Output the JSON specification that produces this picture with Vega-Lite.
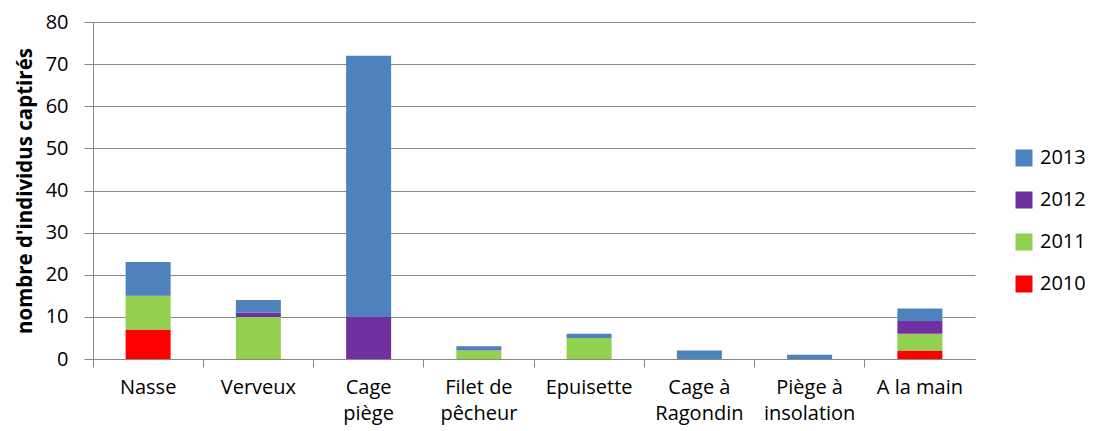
{
  "$schema": "https://vega.github.io/schema/vega-lite/v6.json",
  "width": 882,
  "height": 337,
  "autosize": {"type": "none"},
  "padding": {"left": 93, "top": 22, "right": 119, "bottom": 72},
  "background": "white",
  "config": {
    "view": {"stroke": null},
    "font": "Open Sans",
    "axis": {"labelFont": "Open Sans", "titleFont": "Open Sans"},
    "legend": {"labelFont": "Open Sans"}
  },
  "data": {
    "values": [
      {"methode": "Nasse", "annee": "2010", "n": 7},
      {"methode": "Nasse", "annee": "2011", "n": 8},
      {"methode": "Nasse", "annee": "2013", "n": 8},
      {"methode": "Verveux", "annee": "2011", "n": 10},
      {"methode": "Verveux", "annee": "2012", "n": 1},
      {"methode": "Verveux", "annee": "2013", "n": 3},
      {"methode": "Cage piège", "annee": "2012", "n": 10},
      {"methode": "Cage piège", "annee": "2013", "n": 62},
      {"methode": "Filet de pêcheur", "annee": "2011", "n": 2},
      {"methode": "Filet de pêcheur", "annee": "2013", "n": 1},
      {"methode": "Epuisette", "annee": "2011", "n": 5},
      {"methode": "Epuisette", "annee": "2013", "n": 1},
      {"methode": "Cage à Ragondin", "annee": "2013", "n": 2},
      {"methode": "Piège à insolation", "annee": "2013", "n": 1},
      {"methode": "A la main", "annee": "2010", "n": 2},
      {"methode": "A la main", "annee": "2011", "n": 4},
      {"methode": "A la main", "annee": "2012", "n": 3},
      {"methode": "A la main", "annee": "2013", "n": 3}
    ]
  },
  "mark": {"type": "bar", "size": 45},
  "encoding": {
    "x": {
      "field": "methode",
      "type": "nominal",
      "sort": ["Nasse", "Verveux", "Cage piège", "Filet de pêcheur", "Epuisette", "Cage à Ragondin", "Piège à insolation", "A la main"],
      "scale": {"paddingInner": 0, "paddingOuter": 0},
      "axis": {
        "title": null,
        "labelAngle": 0,
        "labelFontSize": 20,
        "labelColor": "#000000",
        "labelPadding": 10,
        "labelLineHeight": 26,
        "labelBaseline": "top",
        "bandPosition": 0,
        "tickColor": "#888888",
        "tickSize": 8,
        "domainColor": "#888888",
        "labelExpr": "datum.label == 'Cage piège' ? ['Cage', 'piège'] : datum.label == 'Filet de pêcheur' ? ['Filet de', 'pêcheur'] : datum.label == 'Cage à Ragondin' ? ['Cage à', 'Ragondin'] : datum.label == 'Piège à insolation' ? ['Piège à', 'insolation'] : datum.label"
      }
    },
    "y": {
      "field": "n",
      "type": "quantitative",
      "stack": "zero",
      "scale": {"domain": [0, 80], "nice": false},
      "axis": {
        "title": "nombre d'individus captirés",
        "titleFontSize": 20.5,
        "titleFontWeight": "bold",
        "titleColor": "#000000",
        "titlePadding": 10,
        "values": [0, 10, 20, 30, 40, 50, 60, 70, 80],
        "labelFontSize": 20,
        "labelColor": "#000000",
        "labelPadding": 16,
        "tickColor": "#888888",
        "tickSize": 9,
        "domainColor": "#888888",
        "grid": true,
        "gridColor": "#888888",
        "gridWidth": 1
      }
    },
    "color": {
      "field": "annee",
      "type": "nominal",
      "scale": {
        "domain": ["2013", "2012", "2011", "2010"],
        "range": ["#4F81BD", "#7030A0", "#92D050", "#FF0000"]
      },
      "legend": {
        "title": null,
        "orient": "none",
        "legendX": 921,
        "legendY": 126,
        "symbolType": "square",
        "symbolSize": 289,
        "symbolStrokeWidth": 0,
        "labelFontSize": 20,
        "labelColor": "#000000",
        "rowPadding": 22,
        "labelOffset": 6
      }
    },
    "order": {"field": "annee", "type": "ordinal", "sort": "ascending"}
  }
}
